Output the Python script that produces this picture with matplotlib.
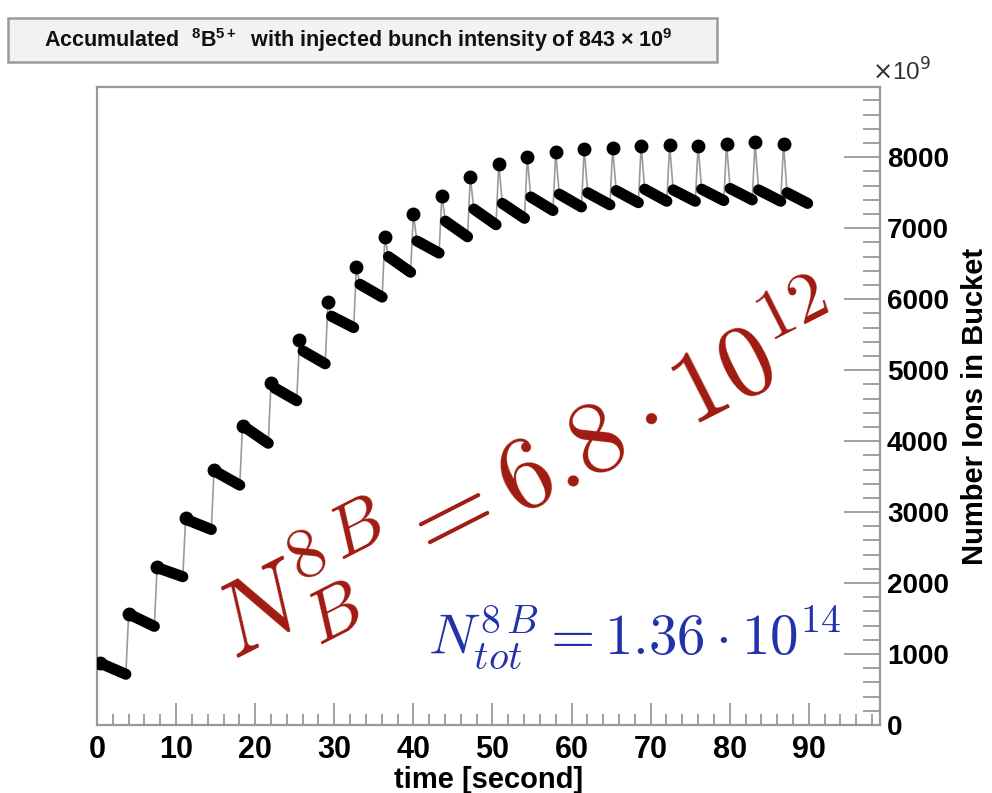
import matplotlib
matplotlib.use("Agg")
import matplotlib.pyplot as plt
from matplotlib.patches import Rectangle
from matplotlib.ticker import MultipleLocator, FixedLocator

# ---------------- data (units of 10^9 ions) ----------------
t_inj = [0.4, 4.0, 7.6, 11.2, 14.8, 18.4, 22.0, 25.6, 29.2, 32.8, 36.4, 40.0, 43.6,
         47.2, 50.8, 54.4, 58.0, 61.6, 65.2, 68.8, 72.4, 76.0, 79.6, 83.2, 86.8]
peak_v = [870, 1570, 2230, 2910, 3590, 4220, 4820, 5420, 5960, 6450, 6870, 7200, 7460,
          7720, 7910, 8000, 8075, 8115, 8125, 8165, 8169, 8165, 8193, 8211, 8187]
seg_start_v = [850, 1540, 2200, 2880, 3555, 4185, 4750, 5270, 5760, 6210, 6600, 6820, 7100,
               7270, 7350, 7440, 7480, 7500, 7530, 7550, 7540, 7550, 7560, 7540, 7500]
seg_end_v = [715, 1390, 2090, 2755, 3380, 3970, 4570, 5090, 5600, 6030, 6380, 6650, 6880,
             7050, 7140, 7250, 7300, 7330, 7360, 7380, 7380, 7390, 7400, 7380, 7350]
t_stop = 90.2          # last recorded time
seg_delay = 0.45       # time after injection where the stored bunch trace starts
seg_gap = 0.35         # time before next injection where the trace ends

x_ticks = [0, 10, 20, 30, 40, 50, 60, 70, 80, 90]
y_ticks = [0, 1000, 2000, 3000, 4000, 5000, 6000, 7000, 8000]

title_text = r"Accumulated  $^{8}$B$^{5+}$  with injected bunch intensity of 843 $\times$ 10$^{9}$"
x_label = "time [second]"
y_label = "Number Ions in Bucket"
red_text = r"$N_B^{8\,B} = 6.8\cdot10^{12}$"
blue_text = r"$N_{tot}^{8\,B} = 1.36\cdot10^{14}$"

# ---------------- figure ----------------
plt.rcParams["mathtext.fontset"] = "custom"
plt.rcParams["mathtext.rm"] = "Liberation Sans:bold"
plt.rcParams["mathtext.bf"] = "Liberation Sans:bold"
plt.rcParams["mathtext.it"] = "Liberation Sans:bold"

W, H = 992, 793
fig = plt.figure(figsize=(W / 100, H / 100), dpi=100)
L, R, T, B = 97, 880, 87, 725
ax = fig.add_axes([L / W, 1 - B / H, (R - L) / W, (B - T) / H])

seg_start_t = [t + seg_delay for t in t_inj]
seg_end_t = [t - seg_gap for t in t_inj[1:]] + [t_stop - seg_gap]

path_t, path_v = [], []
for k in range(len(t_inj)):
    path_t += [t_inj[k], seg_start_t[k], seg_end_t[k]]
    path_v += [peak_v[k], seg_start_v[k], seg_end_v[k]]
ax.plot(path_t, path_v, color="#9a9a9a", lw=1.2, zorder=2)
for k in range(len(t_inj)):
    ax.plot([seg_start_t[k], seg_end_t[k]], [seg_start_v[k], seg_end_v[k]],
            color="black", lw=8, solid_capstyle="round", zorder=3)
ax.plot(t_inj, peak_v, "o", color="black", ms=9, zorder=4)

ax.set_xlim(0, 99)
ax.set_ylim(0, 8990)
ax.xaxis.set_major_locator(FixedLocator(x_ticks))
ax.xaxis.set_minor_locator(MultipleLocator(2))
ax.yaxis.set_major_locator(FixedLocator(y_ticks))
ax.yaxis.set_minor_locator(MultipleLocator(200))

for s in ax.spines.values():
    s.set_color("#999999")
    s.set_linewidth(1.6)

ax.tick_params(axis="x", which="both", direction="in", top=False, bottom=True,
               color="#999999", width=1.3, pad=7)
ax.tick_params(axis="x", which="major", length=16)
ax.tick_params(axis="x", which="minor", length=8)
ax.tick_params(axis="y", which="both", direction="in", left=False, right=True,
               labelleft=False, labelright=True, color="#999999", width=1.3, pad=5)
ax.tick_params(axis="y", which="major", length=26)
ax.tick_params(axis="y", which="minor", length=12)

for lab in ax.get_xticklabels():
    lab.set_fontfamily(["Liberation Sans Narrow", "Liberation Sans"])
    lab.set_fontweight("bold")
    lab.set_fontsize(22)
for lab in ax.get_yticklabels():
    lab.set_fontfamily(["Liberation Sans", "DejaVu Sans"])
    lab.set_fontweight("bold")
    lab.set_fontsize(20)

ax.set_xlabel(x_label, family=["Liberation Sans Narrow", "Liberation Sans"],
              fontweight="bold", fontsize=21, labelpad=1)
ax.yaxis.set_label_position("right")
ax.set_ylabel(y_label, family=["Liberation Sans", "DejaVu Sans"], fontweight="bold",
              fontsize=21, labelpad=9)

fig.text(872 / W, 1 - 72 / H, r"$\times$10$^{9}$", fontsize=17.5, color="#333333",
         family=["Liberation Sans", "DejaVu Sans"], ha="left", va="center",
         math_fontfamily="dejavusans")

# title box
fig.patches.append(Rectangle((8 / W, 1 - 62 / H), (717 - 8) / W, (62 - 18) / H,
                             transform=fig.transFigure, facecolor="#f2f2f2",
                             edgecolor="#9a9a9a", lw=1.8, zorder=1))
fig.text(358 / W, 1 - 40 / H, title_text, fontsize=15.5, fontweight="bold",
         family=["Liberation Sans", "DejaVu Sans"], ha="center", va="center",
         color="#111111", zorder=2)

# annotations
ax.text(0.55, 0.39, red_text, transform=ax.transAxes, fontsize=74, color="#a01a10",
        rotation=27, ha="center", va="center", math_fontfamily="cm", zorder=5)
ax.text(0.687, 0.137, blue_text, transform=ax.transAxes, fontsize=41, color="#2233aa",
        ha="center", va="center", math_fontfamily="cm", zorder=5)

fig.savefig("out.png", dpi=100)
